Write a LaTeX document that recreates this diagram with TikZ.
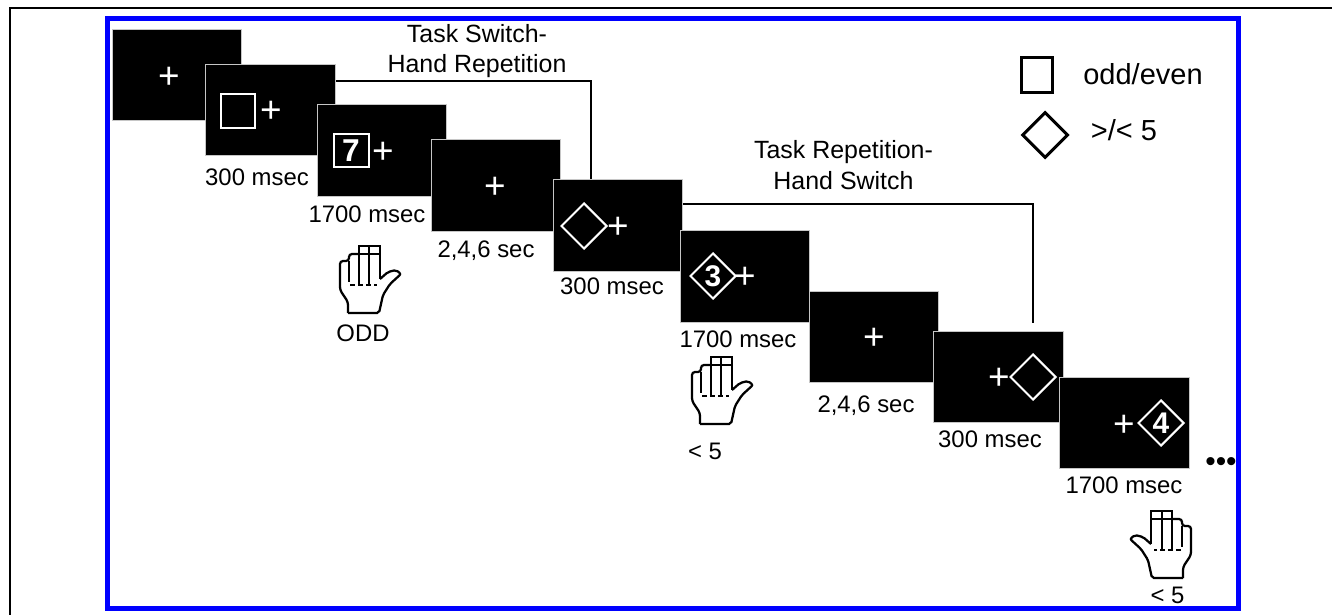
\documentclass[tikz,border=0pt]{standalone}
\usepackage{fontspec}
\setmainfont{Liberation Sans}
\usetikzlibrary{shapes.geometric}
\tikzset{
	screen/.style={fill=black,draw=gray!45,line width=0.02cm,minimum width=2.6cm,minimum height=1.84cm,inner sep=0pt},
	fixcross/.style={text=white,inner sep=0pt,font=\fontsize{21}{21}\selectfont},
	squarecue/.style={draw=white,line width=0.04cm,minimum width=0.7cm,minimum height=0.68cm,inner sep=0pt,text=white,font=\bfseries\fontsize{18}{18}\selectfont},
	diamondcue/.style={diamond,draw=white,line width=0.04cm,minimum size=0.92cm,inner sep=0pt,text=white,font=\bfseries\fontsize{17}{17}\selectfont},
	timelabel/.style={anchor=base,inner sep=0pt,font=\fontsize{13.6}{17}\selectfont},
	linklabel/.style={align=center,inner sep=0pt,font=\fontsize{14.2}{17.3}\selectfont},
	keylabel/.style={anchor=base,inner sep=0pt,font=\fontsize{16.5}{18}\selectfont},
	linkline/.style={line width=0.04cm},
	pics/hand/.style={code={
		\draw[line width=0.045cm,rounded corners=0.04cm] (0,0) -- (31,0) -- (35,-18) -- (42,-29) -- (53,-39) -- (48,-43) -- (40,-41) -- (32,-34);
		\draw[line width=0.045cm,rounded corners=0.06cm] (0,0) -- (0,-11) -- (-8,-23) -- (-8,-52) -- (1,-52) -- (1,-59) -- (11,-59);
		\draw[line width=0.025cm] (11,-67) rectangle (21,-59) (21,-67) rectangle (32,-59);
		\draw[line width=0.04cm] (1,-52) -- (1,-31);
		\draw[line width=0.04cm] (11,-59) -- (11,-29);
		\draw[line width=0.04cm] (21,-59) -- (21,-28);
		\draw[line width=0.04cm] (32,-59) -- (32,-34);
		\draw[line width=0.03cm,dash pattern=on 0.1cm off 0.06cm] (2,-28) -- (29,-28);
	}}
}
\begin{document}
\begin{tikzpicture}[x=0.02cm,y=-0.02cm]
	\useasboundingbox (0,0) rectangle (1332,615);
	\draw[line width=0.04cm] (10,615) -- (10,8) -- (1332,8);
	\draw[blue,line width=0.1cm] (107.5,18.5) rectangle (1238.5,608.5);
	
	\foreach \name/\x/\y/\px/\py in {scrA/177/75/169/78,scrB/270.5/110/271/112,scrC/382/150.5/383/153,scrD/496/185.5/495/188,scrE/618/225.5/618/228,scrF/745/276.5/745/278,scrG/874/337/874/339,scrH/998/377/999/379,scrI/1124/423/1124/426}
	{
		\node[screen] (\name) at (\x,\y) {};
		\node[fixcross] (cross\name) at (\px,\py) {+};
	}
	
	\node[squarecue] (cueB) at (238,111) {};
	\node[squarecue] (cueC) at (351,150.5) {7};
	\node[diamondcue] (cueE) at (584,226) {};
	\node[diamondcue] (cueF) at (713,276) {3};
	\node[diamondcue] (cueH) at (1033,377) {};
	\node[diamondcue] (cueI) at (1161,423) {4};
	
	\draw[linkline] ([shift={(0,17)}]scrB.north east) -| ([shift={(-27,0)}]scrE.north);
	\draw[linkline] ([shift={(0,25)}]scrE.north east) -| ([shift={(35,-8)}]scrH.north);
	\node[linklabel] (linkA) at (477,51) {Task Switch-\\Hand Repetition};
	\node[linklabel] (linkB) at (843.5,165) {Task Repetition-\\Hand Switch};
	
	\node[timelabel] (timeB) at (257,185) {300 msec};
	\node[timelabel] (timeC) at (367,222) {1700 msec};
	\node[timelabel] (timeD) at (486,257) {2,4,6 sec};
	\node[timelabel] (timeE) at (612,294) {300 msec};
	\node[timelabel] (timeF) at (738,347) {1700 msec};
	\node[timelabel] (timeG) at (866,412) {2,4,6 sec};
	\node[timelabel] (timeH) at (990,447) {300 msec};
	\node[timelabel] (timeI) at (1124,493) {1700 msec};
	
	\pic (handC) at (348,313) {hand};
	\pic (handF) at (700,424) {hand};
	\pic[xscale=-1] (handI) at (1183,578) {hand};
	\node[timelabel] (respC) at (363,341) {ODD};
	\node[timelabel] (respF) at (705,459) {< 5};
	\node[timelabel] (respI) at (1167.5,603) {< 5};
	
	\node[draw,line width=0.06cm,minimum width=0.63cm,minimum height=0.72cm,inner sep=0pt] (keysquare) at (1037,75) {};
	\node[diamond,draw,line width=0.06cm,minimum size=0.92cm,inner sep=0pt] (keydiamond) at (1045,135) {};
	\node[keylabel] (keyodd) at (1143,85) {odd/even};
	\node[keylabel] (keygreater) at (1124,140) {>/< 5};
	
	\node[inner sep=0pt,font=\fontsize{17}{17}\selectfont] (dots) at (1221,465) {•••};
\end{tikzpicture}
\end{document}
